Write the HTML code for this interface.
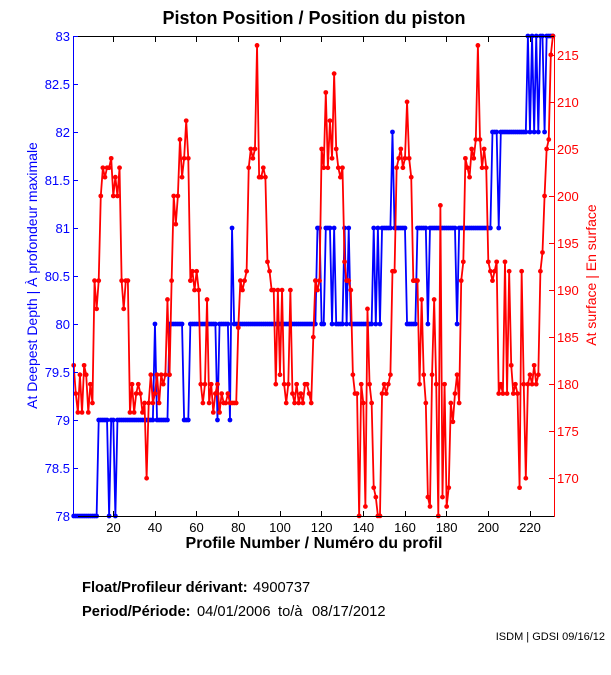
<!DOCTYPE html>
<html>
<head>
<meta charset="utf-8">
<style>
  html,body{margin:0;padding:0;background:#fff;}
  svg{display:block;}
  text{font-family:"Liberation Sans", Arial, Helvetica, sans-serif;}
</style>
</head>
<body>
<svg width="611" height="675" viewBox="0 0 611 675" xmlns="http://www.w3.org/2000/svg">
  <defs>
    <marker id="mb" markerUnits="userSpaceOnUse" markerWidth="10" markerHeight="10" overflow="visible">
      <ellipse cx="0" cy="0" rx="1.15" ry="0.025" fill="#0000ff"/>
    </marker>
    <marker id="mr" markerUnits="userSpaceOnUse" markerWidth="10" markerHeight="10" overflow="visible">
      <ellipse cx="0" cy="0" rx="1.15" ry="0.25" fill="#ff0000"/>
    </marker>
  </defs>
  <rect x="0" y="0" width="611" height="675" fill="#fff"/>

  <!-- Blue series: at deepest depth -->
  <polyline id="blue" transform="matrix(2.0835 0 0 -96 71.6165 8004)" fill="none" stroke="#0000ff" stroke-width="1.8" vector-effect="non-scaling-stroke" stroke-linejoin="round"
    points="1,78 2,78 3,78 4,78 5,78 6,78 7,78 8,78 9,78 10,78 11,78 12,78 13,79 14,79 15,79 16,79 17,79 18,78 19,79 20,79 21,78 22,79 23,79 24,79 25,79 26,79 27,79 28,79 29,79 30,79 31,79 32,79 33,79 34,79 35,79 36,79 37,79 38,79 39,79 40,80 41,79 42,79 43,79 44,79 45,79 46,79 47,80 48,80 49,80 50,80 51,80 52,80 53,80 54,79 55,79 56,79 57,80 58,80 59,80 60,80 61,80 62,80 63,80 64,80 65,80 66,80 67,80 68,80 69,80 70,79 71,80 72,80 73,80 74,80 75,80 76,79 77,81 78,80 79,80 80,80 81,80 82,80 83,80 84,80 85,80 86,80 87,80 88,80 89,80 90,80 91,80 92,80 93,80 94,80 95,80 96,80 97,80 98,80 99,80 100,80 101,80 102,80 103,80 104,80 105,80 106,80 107,80 108,80 109,80 110,80 111,80 112,80 113,80 114,80 115,80 116,80 117,80 118,81 119,81 120,80 121,80 122,81 123,81 124,81 125,80 126,81 127,80 128,80 129,80 130,80 131,81 132,80 133,81 134,80 135,80 136,80 137,80 138,80 139,80 140,80 141,80 142,80 143,80 144,80 145,81 146,80 147,81 148,80 149,81 150,81 151,81 152,81 153,81 154,82 155,81 156,81 157,81 158,81 159,81 160,81 161,80 162,80 163,80 164,80 165,80 166,81 167,81 168,81 169,81 170,81 171,80 172,81 173,81 174,81 175,81 176,81 177,81 178,81 179,81 180,81 181,81 182,81 183,81 184,81 185,80 186,81 187,81 188,81 189,81 190,81 191,81 192,81 193,81 194,81 195,81 196,81 197,81 198,81 199,81 200,81 201,81 202,82 203,82 204,82 205,81 206,82 207,82 208,82 209,82 210,82 211,82 212,82 213,82 214,82 215,82 216,82 217,82 218,82 219,83 220,82 221,83 222,82 223,83 224,82 225,83 226,83 227,82 228,83 229,83 230,83 231,83"/>
  <polyline transform="matrix(2.0835 0 0 -96 71.6165 8004)" fill="none" stroke="none" marker-start="url(#mb)" marker-mid="url(#mb)" marker-end="url(#mb)"
    points="1,78 2,78 3,78 4,78 5,78 6,78 7,78 8,78 9,78 10,78 11,78 12,78 13,79 14,79 15,79 16,79 17,79 18,78 19,79 20,79 21,78 22,79 23,79 24,79 25,79 26,79 27,79 28,79 29,79 30,79 31,79 32,79 33,79 34,79 35,79 36,79 37,79 38,79 39,79 40,80 41,79 42,79 43,79 44,79 45,79 46,79 47,80 48,80 49,80 50,80 51,80 52,80 53,80 54,79 55,79 56,79 57,80 58,80 59,80 60,80 61,80 62,80 63,80 64,80 65,80 66,80 67,80 68,80 69,80 70,79 71,80 72,80 73,80 74,80 75,80 76,79 77,81 78,80 79,80 80,80 81,80 82,80 83,80 84,80 85,80 86,80 87,80 88,80 89,80 90,80 91,80 92,80 93,80 94,80 95,80 96,80 97,80 98,80 99,80 100,80 101,80 102,80 103,80 104,80 105,80 106,80 107,80 108,80 109,80 110,80 111,80 112,80 113,80 114,80 115,80 116,80 117,80 118,81 119,81 120,80 121,80 122,81 123,81 124,81 125,80 126,81 127,80 128,80 129,80 130,80 131,81 132,80 133,81 134,80 135,80 136,80 137,80 138,80 139,80 140,80 141,80 142,80 143,80 144,80 145,81 146,80 147,81 148,80 149,81 150,81 151,81 152,81 153,81 154,82 155,81 156,81 157,81 158,81 159,81 160,81 161,80 162,80 163,80 164,80 165,80 166,81 167,81 168,81 169,81 170,81 171,80 172,81 173,81 174,81 175,81 176,81 177,81 178,81 179,81 180,81 181,81 182,81 183,81 184,81 185,80 186,81 187,81 188,81 189,81 190,81 191,81 192,81 193,81 194,81 195,81 196,81 197,81 198,81 199,81 200,81 201,81 202,82 203,82 204,82 205,81 206,82 207,82 208,82 209,82 210,82 211,82 212,82 213,82 214,82 215,82 216,82 217,82 218,82 219,83 220,82 221,83 222,82 223,83 224,82 225,83 226,83 227,82 228,83 229,83 230,83 231,83"/>

  <!-- Red series: at surface -->
  <polyline transform="matrix(2.0835 0 0 -9.41 71.6165 2077.97)" fill="none" stroke="#ff0000" stroke-width="1.8" vector-effect="non-scaling-stroke" stroke-linejoin="round"
    points="1,182 2,179 3,177 4,181 5,177 6,182 7,181 8,177 9,180 10,178 11,191 12,188 13,191 14,200 15,203 16,202 17,203 18,203 19,204 20,200 21,202 22,200 23,203 24,191 25,188 26,191 27,191 28,177 29,180 30,177 31,179 32,180 33,179 34,177 35,178 36,170 37,178 38,181 39,178 40,179 41,181 42,178 43,181 44,180 45,181 46,189 47,181 48,191 49,200 50,197 51,200 52,206 53,202 54,204 55,208 56,204 57,191 58,192 59,190 60,192 61,190 62,180 63,178 64,180 65,189 66,178 67,180 68,177 69,179 70,180 71,177 72,179 73,178 74,178 75,179 76,178 77,178 78,178 79,178 80,186 81,191 82,190 83,191 84,192 85,203 86,205 87,204 88,205 89,216 90,202 91,202 92,203 93,202 94,193 95,192 96,190 97,190 98,180 99,190 100,181 101,190 102,180 103,178 104,180 105,190 106,179 107,178 108,180 109,178 110,179 111,178 112,180 113,180 114,179 115,178 116,185 117,191 118,190 119,191 120,205 121,203 122,211 123,203 124,208 125,204 126,213 127,205 128,203 129,202 130,203 131,193 132,191 133,191 134,190 135,181 136,179 137,179 138,166 139,180 140,178 141,167 142,188 143,180 144,178 145,169 146,168 147,166 148,166 149,179 150,180 151,179 152,180 153,181 154,192 155,192 156,203 157,204 158,205 159,203 160,204 161,210 162,204 163,202 164,191 165,191 166,191 167,180 168,189 169,181 170,178 171,168 172,167 173,181 174,189 175,180 176,166 177,199 178,168 179,180 180,167 181,169 182,178 183,176 184,179 185,181 186,178 187,191 188,193 189,204 190,203 191,202 192,205 193,204 194,206 195,216 196,206 197,203 198,205 199,203 200,193 201,192 202,191 203,192 204,193 205,179 206,180 207,179 208,193 209,179 210,192 211,182 212,179 213,180 214,179 215,169 216,192 217,180 218,170 219,180 220,181 221,180 222,182 223,180 224,181 225,192 226,194 227,200 228,205 229,206 230,215 231,217"/>
  <polyline transform="matrix(2.0835 0 0 -9.41 71.6165 2077.97)" fill="none" stroke="none" marker-start="url(#mr)" marker-mid="url(#mr)" marker-end="url(#mr)"
    points="1,182 2,179 3,177 4,181 5,177 6,182 7,181 8,177 9,180 10,178 11,191 12,188 13,191 14,200 15,203 16,202 17,203 18,203 19,204 20,200 21,202 22,200 23,203 24,191 25,188 26,191 27,191 28,177 29,180 30,177 31,179 32,180 33,179 34,177 35,178 36,170 37,178 38,181 39,178 40,179 41,181 42,178 43,181 44,180 45,181 46,189 47,181 48,191 49,200 50,197 51,200 52,206 53,202 54,204 55,208 56,204 57,191 58,192 59,190 60,192 61,190 62,180 63,178 64,180 65,189 66,178 67,180 68,177 69,179 70,180 71,177 72,179 73,178 74,178 75,179 76,178 77,178 78,178 79,178 80,186 81,191 82,190 83,191 84,192 85,203 86,205 87,204 88,205 89,216 90,202 91,202 92,203 93,202 94,193 95,192 96,190 97,190 98,180 99,190 100,181 101,190 102,180 103,178 104,180 105,190 106,179 107,178 108,180 109,178 110,179 111,178 112,180 113,180 114,179 115,178 116,185 117,191 118,190 119,191 120,205 121,203 122,211 123,203 124,208 125,204 126,213 127,205 128,203 129,202 130,203 131,193 132,191 133,191 134,190 135,181 136,179 137,179 138,166 139,180 140,178 141,167 142,188 143,180 144,178 145,169 146,168 147,166 148,166 149,179 150,180 151,179 152,180 153,181 154,192 155,192 156,203 157,204 158,205 159,203 160,204 161,210 162,204 163,202 164,191 165,191 166,191 167,180 168,189 169,181 170,178 171,168 172,167 173,181 174,189 175,180 176,166 177,199 178,168 179,180 180,167 181,169 182,178 183,176 184,179 185,181 186,178 187,191 188,193 189,204 190,203 191,202 192,205 193,204 194,206 195,216 196,206 197,203 198,205 199,203 200,193 201,192 202,191 203,192 204,193 205,179 206,180 207,179 208,193 209,179 210,192 211,182 212,179 213,180 214,179 215,169 216,192 217,180 218,170 219,180 220,181 221,180 222,182 223,180 224,181 225,192 226,194 227,200 228,205 229,206 230,215 231,217"/>

  <!-- Axes frame -->
  <g shape-rendering="crispEdges" stroke-width="1" fill="none">
    <line x1="73.5" y1="36.5" x2="554.5" y2="36.5" stroke="#000"/>
    <line x1="73.5" y1="516.5" x2="554.5" y2="516.5" stroke="#000"/>
    <line x1="73.5" y1="36" x2="73.5" y2="517" stroke="#0000ff"/>
    <line x1="554.5" y1="36" x2="554.5" y2="517" stroke="#ff0000"/>
    <!-- x ticks bottom and top -->
    <path stroke="#000" d="M113.5,516V511 M155.5,516V511 M196.5,516V511 M238.5,516V511 M280.5,516V511 M321.5,516V511 M363.5,516V511 M405.5,516V511 M446.5,516V511 M488.5,516V511 M530.5,516V511
      M113.5,37V42 M155.5,37V42 M196.5,37V42 M238.5,37V42 M280.5,37V42 M321.5,37V42 M363.5,37V42 M405.5,37V42 M446.5,37V42 M488.5,37V42 M530.5,37V42"/>
    <!-- left ticks (blue) -->
    <path stroke="#0000ff" d="M74,36.5H78 M74,84.5H78 M74,132.5H78 M74,180.5H78 M74,228.5H78 M74,276.5H78 M74,324.5H78 M74,372.5H78 M74,420.5H78 M74,468.5H78 M74,516.5H78"/>
    <!-- right ticks (red) -->
    <path stroke="#ff0000" d="M554,478.5H549 M554,431.5H549 M554,384.5H549 M554,337.5H549 M554,290.5H549 M554,243.5H549 M554,196.5H549 M554,149.5H549 M554,102.5H549 M554,55.5H549"/>
  </g>

  <!-- Left tick labels -->
  <g font-size="13" fill="#0000ff" text-anchor="end">
    <text x="70" y="41">83</text>
    <text x="70" y="89">82.5</text>
    <text x="70" y="137">82</text>
    <text x="70" y="185">81.5</text>
    <text x="70" y="233">81</text>
    <text x="70" y="281">80.5</text>
    <text x="70" y="329">80</text>
    <text x="70" y="377">79.5</text>
    <text x="70" y="425">79</text>
    <text x="70" y="473">78.5</text>
    <text x="70" y="521">78</text>
  </g>

  <!-- Right tick labels -->
  <g font-size="13" fill="#ff0000" text-anchor="start">
    <text x="557" y="483">170</text>
    <text x="557" y="436">175</text>
    <text x="557" y="389">180</text>
    <text x="557" y="342">185</text>
    <text x="557" y="295">190</text>
    <text x="557" y="248">195</text>
    <text x="557" y="201">200</text>
    <text x="557" y="154">205</text>
    <text x="557" y="107">210</text>
    <text x="557" y="60">215</text>
  </g>

  <!-- X tick labels -->
  <g font-size="13" fill="#000" text-anchor="middle">
    <text x="113.5" y="532">20</text>
    <text x="155" y="532">40</text>
    <text x="196.5" y="532">60</text>
    <text x="238.3" y="532">80</text>
    <text x="280" y="532">100</text>
    <text x="321.6" y="532">120</text>
    <text x="363.3" y="532">140</text>
    <text x="405" y="532">160</text>
    <text x="446.6" y="532">180</text>
    <text x="488.3" y="532">200</text>
    <text x="530" y="532">220</text>
  </g>

  <!-- Titles / labels -->
  <text x="314" y="24" font-size="18" font-weight="bold" text-anchor="middle" fill="#000">Piston Position / Position du piston</text>
  <text x="314" y="548" font-size="16" font-weight="bold" text-anchor="middle" fill="#000">Profile Number / Numéro du profil</text>
  <text transform="translate(37,275.5) rotate(-90)" font-size="14" text-anchor="middle" fill="#0000ff">At Deepest Depth | À profondeur maximale</text>
  <text transform="translate(596,275) rotate(-90)" font-size="14" text-anchor="middle" fill="#ff0000">At surface | En surface</text>

  <!-- Footer info -->
  <text x="82" y="592" font-size="14.7" fill="#000"><tspan font-weight="bold">Float/Profileur dérivant:</tspan><tspan x="253">4900737</tspan></text>
  <text x="82" y="616" font-size="14.7" fill="#000"><tspan font-weight="bold">Period/Période:</tspan><tspan x="197">04/01/2006</tspan><tspan x="278">to/à</tspan><tspan x="312">08/17/2012</tspan></text>
  <text x="605" y="640" font-size="11" text-anchor="end" fill="#000">ISDM | GDSI 09/16/12</text>
</svg>
</body>
</html>
